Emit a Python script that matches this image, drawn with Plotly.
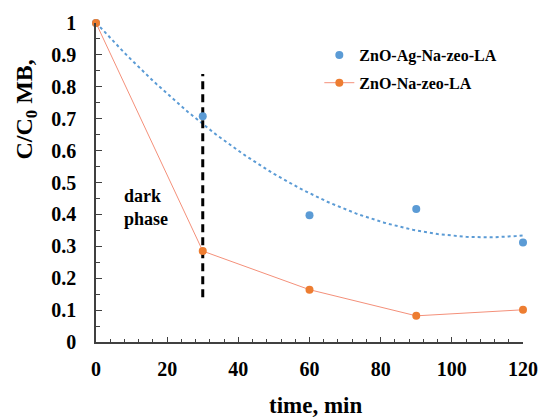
import numpy as np
import plotly.graph_objects as go

time_min = [0, 30, 60, 90, 120]
zno_ag = [1.0, 0.708, 0.397, 0.417, 0.312]
zno_na = [1.0, 0.285, 0.164, 0.082, 0.101]
dark_x = [30, 30]
dark_y = [0.14, 0.84]
x_ticks = [0, 20, 40, 60, 80, 100, 120]
x_tick_text = ["0", "20", "40", "60", "80", "100", "120"]
y_ticks = [0, 0.1, 0.2, 0.3, 0.4, 0.5, 0.6, 0.7, 0.8, 0.9, 1]
y_tick_text = ["0", "0.1", "0.2", "0.3", "0.4", "0.5", "0.6", "0.7", "0.8", "0.9", "1"]

# 2nd-order polynomial trendline for ZnO-Ag-Na-zeo-LA
coef = np.polyfit(time_min, zno_ag, 2)
tx = np.linspace(0, 120, 121)
ty = np.polyval(coef, tx)

FONT = "Times New Roman, Liberation Serif, DejaVu Serif, serif"
BLUE = "#5B9BD5"
ORANGE = "#ED7D31"

fig = go.Figure()
fig.add_trace(go.Scatter(x=tx, y=ty, mode="lines", showlegend=False,
                         line=dict(color=BLUE, width=2, dash="dot"), hoverinfo="skip"))
fig.add_trace(go.Scatter(x=dark_x, y=dark_y, mode="lines", showlegend=False,
                         line=dict(color="black", width=3, dash="8px,5px")))
fig.add_trace(go.Scatter(x=time_min, y=zno_ag, mode="markers", name="<b>ZnO-Ag-Na-zeo-LA</b>",
                         legendgroup="a",
                         marker=dict(color=BLUE, size=8), cliponaxis=False))
fig.add_trace(go.Scatter(x=time_min, y=zno_na, mode="lines+markers", name="<b>ZnO-Na-zeo-LA</b>",
                         legendgroup="b",
                         line=dict(color="#F4907A", width=1),
                         marker=dict(color=ORANGE, size=8), cliponaxis=False))

fig.update_layout(
    width=550, height=417,
    margin=dict(l=96, r=17, t=20, b=75),
    paper_bgcolor="white", plot_bgcolor="white",
    font=dict(family=FONT, color="black"),
    showlegend=True,
    legend=dict(x=0.523, y=0.953, xanchor="left", yanchor="top",
                bgcolor="rgba(0,0,0,0)", tracegroupgap=4,
                font=dict(family=FONT, size=16, color="black")),
    annotations=[
        dict(text="<b>C/C<sub>0</sub> MB,</b>", xref="paper", yref="paper",
             x=-0.163, y=0.73, textangle=-90, showarrow=False,
             font=dict(family=FONT, size=24, color="black"),
             xanchor="center", yanchor="middle"),
        dict(text="<b>time, min</b>", xref="paper", yref="paper",
             x=0.515, y=-0.20, showarrow=False,
             font=dict(family=FONT, size=23, color="black"),
             xanchor="center", yanchor="middle"),
        dict(text="<b>dark<br>phase</b>", xref="x", yref="y",
             x=7.2, y=0.422, showarrow=False, align="left",
             font=dict(family=FONT, size=18, color="black"),
             xanchor="left", yanchor="middle"),
    ],
)
fig.update_xaxes(range=[0, 120], tickvals=x_ticks,
                 ticktext=["<b>%s</b>" % t for t in x_tick_text],
                 showgrid=False, zeroline=False,
                 showline=True, linecolor="#404040", linewidth=1.5,
                 ticks="inside", ticklen=5, tickcolor="#404040",
                 ticklabelstandoff=8,
                 tickfont=dict(family=FONT, size=20, color="black"),
                 minor=dict(ticks="inside", dtick=4, ticklen=3, tickcolor="#404040"))
fig.update_yaxes(range=[0, 1], tickvals=y_ticks,
                 ticktext=["<b>%s</b>" % t for t in y_tick_text],
                 showgrid=False, zeroline=False,
                 showline=True, linecolor="#404040", linewidth=1.5,
                 ticks="inside", ticklen=6, tickcolor="#404040",
                 ticklabelstandoff=14,
                 tickfont=dict(family=FONT, size=20, color="black"),
                 minor=dict(ticks="inside", dtick=0.05, ticklen=4, tickcolor="#404040"))

fig.write_html("out.html", config={"displayModeBar": False},
               post_script="document.body.style.margin='0';")
